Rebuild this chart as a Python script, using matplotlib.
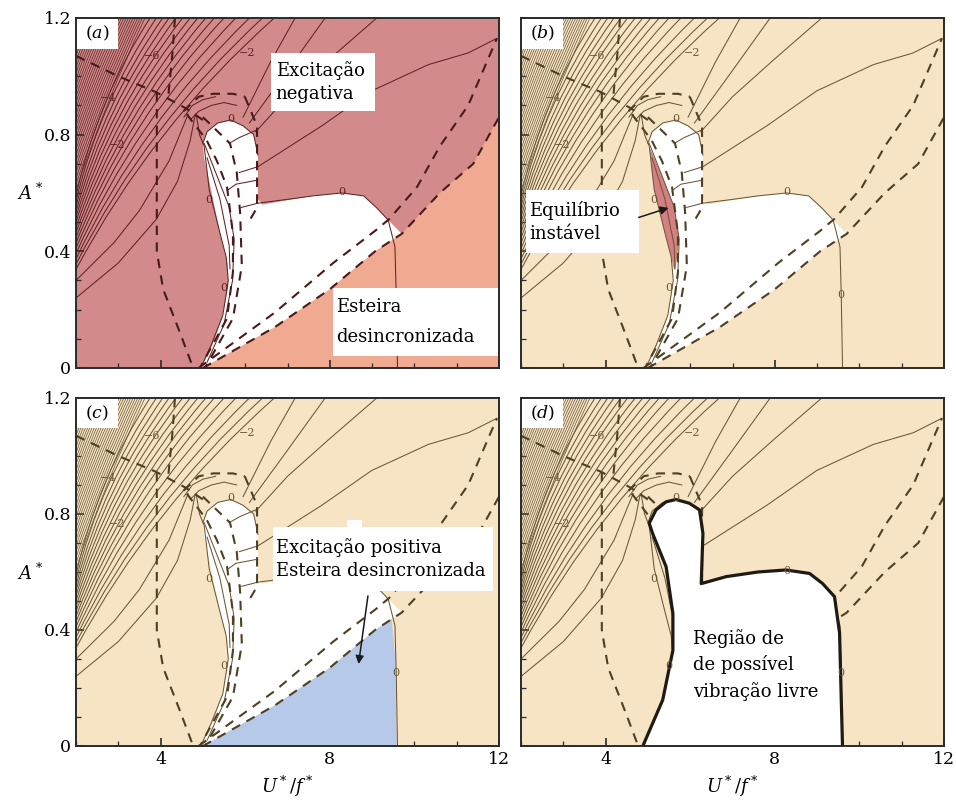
import matplotlib.pyplot as plt
from matplotlib.patches import Rectangle, PathPatch, FancyArrowPatch
from matplotlib.path import Path
from matplotlib.ticker import MultipleLocator, FuncFormatter

plt.rcParams['font.family'] = 'DejaVu Serif'
plt.rcParams['mathtext.fontset'] = 'dejavuserif'

# --- contour lines running from the left edge (x = 2) to the top edge (A* = 1.2) ---
# tightly packed lines in the upper-left corner
corner_y_left = [1.19, 1.17, 1.15, 1.13, 1.11, 1.09, 1.07, 1.05, 1.03, 1.01,
                 0.99, 0.97, 0.95, 0.93, 0.91, 0.89, 0.87, 0.85, 0.83, 0.81,
                 0.79, 0.77, 0.75, 0.73, 0.71, 0.69, 0.67, 0.65, 0.63, 0.61]
corner_x_top = [2.03, 2.085, 2.14, 2.195, 2.25, 2.305, 2.36, 2.415, 2.47, 2.525,
                2.58, 2.635, 2.69, 2.745, 2.80, 2.855, 2.91, 2.965, 3.02, 3.075,
                3.13, 3.185, 3.24, 3.295, 3.35, 3.405, 3.46, 3.515, 3.57, 3.63]
# wider-spaced lines below them, bending over the saddle
fan_y_left = [0.59, 0.572, 0.554, 0.536, 0.518, 0.50, 0.482, 0.464, 0.446, 0.428,
              0.41, 0.392, 0.374, 0.356, 0.338]
fan_x_top = [3.75, 3.9, 4.05, 4.2, 4.36, 4.52, 4.7, 4.88, 5.07, 5.27,
             5.5, 5.78, 6.1, 6.41, 6.69]

# lower contours feeding into the saddle near U*/f* ~ 4.8
low1_x = [2.0, 3.0, 3.9, 4.4, 4.7, 4.82]
low1_y = [0.24, 0.36, 0.51, 0.64, 0.78, 0.87]
low2_x = [2.0, 2.9, 3.5, 4.2, 4.65]
low2_y = [0.30, 0.43, 0.54, 0.71, 0.87]

# contours leaving the top of the "head" towards upper right
head1_x = [5.86, 6.3, 7.81, 8.99, 10.33, 11.27, 11.95]
head1_y = [0.67, 0.69, 0.83, 0.95, 1.04, 1.08, 1.13]
head2_x = [6.25, 7.0, 8.0, 9.11]
head2_y = [0.81, 0.93, 1.06, 1.2]
head3_x = [6.1, 7.0, 7.89]
head3_y = [0.84, 1.02, 1.2]
head4_x = [5.95, 6.6, 7.18]
head4_y = [0.86, 1.05, 1.2]
knot1_x = [4.55, 4.75, 5.0, 5.3]
knot1_y = [0.86, 0.90, 0.92, 0.93]
knot2_x = [4.7, 4.9, 5.2, 5.5, 5.8]
knot2_y = [0.85, 0.88, 0.90, 0.91, 0.90]

# zero contours
zero_left_x = [4.84, 4.92, 5.03, 5.15, 5.39, 5.55, 5.6, 5.47, 5.2, 4.95]
zero_left_y = [0.87, 0.80, 0.76, 0.61, 0.47, 0.38, 0.30, 0.18, 0.08, 0.0]
zero_mid_x = [5.03, 5.31, 5.62, 5.74, 5.7, 5.5, 5.1]
zero_mid_y = [0.77, 0.667, 0.552, 0.44, 0.30, 0.15, 0.02]
zero_sliver_x = [5.1, 5.4, 5.62, 5.64]
zero_sliver_y = [0.72, 0.58, 0.42, 0.34]
zero_head_x = [5.0, 5.1, 5.35, 5.66, 5.95, 6.2, 6.3]
zero_head_y = [0.77, 0.81, 0.84, 0.85, 0.83, 0.80, 0.73]
zero_body_x = [5.9, 6.3, 7.0, 7.6, 8.28, 8.8, 9.1, 9.38, 9.54, 9.57, 9.6]
zero_body_y = [0.55, 0.565, 0.578, 0.59, 0.60, 0.59, 0.55, 0.507, 0.415, 0.25, 0.0]
inner1_x = [5.62, 5.86, 6.26]
inner1_y = [0.77, 0.79, 0.815]
inner2_x = [5.59, 5.78, 6.29]
inner2_y = [0.61, 0.63, 0.644]

# dashed boundaries
dash_diag_x = [2.0, 3.0, 3.9, 4.6, 5.0]
dash_diag_y = [1.07, 1.0, 0.945, 0.89, 0.85]
dash_top_x = [4.34, 4.28, 4.18]
dash_top_y = [1.2, 1.08, 0.93]
dash_lens_x = [3.91, 3.91, 3.91, 4.06, 4.46, 4.77]
dash_lens_y = [0.945, 0.69, 0.40, 0.27, 0.12, 0.0]
dash_s1_x = [4.62, 5.09, 5.33, 5.57, 5.71, 5.71, 5.57, 4.93]
dash_s1_y = [0.87, 0.78, 0.71, 0.62, 0.46, 0.33, 0.17, 0.0]
dash_s2_x = [5.0, 5.64, 5.8, 5.88, 5.92, 5.71, 5.05]
dash_s2_y = [0.86, 0.77, 0.67, 0.53, 0.35, 0.17, 0.0]
dash_head_x = [5.99, 6.28, 6.28, 6.12]
dash_head_y = [0.93, 0.83, 0.55, 0.51]
dash_cap_x = [4.54, 4.9, 5.24, 5.71, 5.99]
dash_cap_y = [0.88, 0.93, 0.94, 0.94, 0.93]
p_x = [4.9, 6.7, 8.08, 9.07, 9.4, 10.06, 10.6, 11.27, 11.95]
p_y = [0.0, 0.19, 0.36, 0.47, 0.51, 0.62, 0.76, 0.90, 1.13]
q_x = [5.0, 6.7, 8.0, 9.07, 9.7, 10.6, 11.39, 12.0]
q_y = [0.0, 0.14, 0.27, 0.40, 0.46, 0.60, 0.70, 0.86]

# regions
white_x = [4.95, 5.2, 5.45, 5.6, 5.58, 5.41, 5.28, 5.15, 5.03, 5.0, 5.1, 5.35,
           5.66, 5.95, 6.2, 6.3, 6.3, 6.4, 7.0, 7.6, 8.28, 8.8, 9.1, 9.38,
           9.7, 9.07, 8.0, 6.7, 5.0]
white_y = [0.0, 0.07, 0.17, 0.28, 0.36, 0.46, 0.55, 0.64, 0.72, 0.77, 0.81, 0.84,
           0.85, 0.83, 0.80, 0.73, 0.58, 0.56, 0.575, 0.59, 0.60, 0.59, 0.55, 0.507,
           0.46, 0.40, 0.27, 0.14, 0.0]
sliver_x = [5.03, 5.15, 5.39, 5.55, 5.62, 5.66, 5.74, 5.62, 5.31, 5.03]
sliver_y = [0.76, 0.61, 0.47, 0.38, 0.336, 0.347, 0.44, 0.552, 0.667, 0.76]
blue_x = [5.0, 6.7, 8.0, 9.07, 9.46, 9.55, 9.58]
blue_y = [0.0, 0.14, 0.27, 0.40, 0.44, 0.30, 0.0]
free_x = [4.88, 5.35, 5.59, 5.59, 5.43, 5.11, 5.03, 5.19, 5.43, 5.66, 5.98, 6.22,
          6.3, 6.26, 6.85, 7.6, 8.26, 8.82, 9.13, 9.41, 9.53, 9.57, 9.6]
free_y = [0.0, 0.159, 0.33, 0.457, 0.618, 0.733, 0.768, 0.814, 0.842, 0.85, 0.837, 0.814,
          0.733, 0.56, 0.584, 0.60, 0.607, 0.595, 0.56, 0.515, 0.39, 0.16, 0.0]

# contour level labels
neg_labels = ['\u22126', '\u22122', '\u22124', '\u22122']
neg_label_x = [3.79, 6.05, 2.77, 2.96]
neg_label_y = [1.07, 1.08, 0.925, 0.765]
zero_label_x = [5.66, 5.13, 8.28, 5.5, 9.55]
zero_label_y = [0.855, 0.575, 0.605, 0.275, 0.25]
# zero labels hidden under the text boxes of a panel
zero_hidden = {'a': [4], 'c': [2]}

RED = '#d38a8b'
ORANGE = '#f0aa91'
BEIGE = '#f6e4c5'
BLUE = '#b7c9e8'

fig = plt.figure(figsize=(9.56, 8.05), dpi=100)
positions = {
    'a': [0.0795, 0.5429, 0.4425, 0.4348],
    'b': [0.545, 0.5429, 0.4425, 0.4348],
    'c': [0.0795, 0.0733, 0.4425, 0.4323],
    'd': [0.545, 0.0733, 0.4425, 0.4323],
}


def bowed_line(ax, y0, x1, bend, color, lw):
    """Quadratic curve from (2, y0) to (x1, 1.2), bowed towards the upper left."""
    x0, y1 = 2.0, 1.2
    sx, sy = 42.3, 292.0  # approx. pixels per data unit
    dx, dy = (x1 - x0) * sx, (y1 - y0) * sy
    cx = (x0 + x1) / 2 - bend * dy / sx
    cy = (y0 + y1) / 2 + bend * dx / sy
    path = Path([(x0, y0), (cx, cy), (x1, y1)],
                [Path.MOVETO, Path.CURVE3, Path.CURVE3])
    ax.add_patch(PathPatch(path, fill=False, edgecolor=color, lw=lw, zorder=2))


def draw_panel(ax, tag):
    if tag == 'a':
        bg, lc, dc = RED, '#5e2424', '#4a1a1a'
    else:
        bg, lc, dc = BEIGE, '#6a5836', '#4e4024'
    ax.set_facecolor(bg)
    ax.set_xlim(2, 12)
    ax.set_ylim(0, 1.2)

    if tag == 'a':
        ax.fill(q_x + [12.0], q_y + [0.0], color=ORANGE, lw=0, zorder=1)

    for y0, x1 in zip(corner_y_left, corner_x_top):
        bowed_line(ax, y0, x1, 0.03, lc, 0.5)
    for y0, x1 in zip(fan_y_left, fan_x_top):
        bowed_line(ax, y0, x1, 0.09, lc, 0.75)

    thin = dict(color=lc, lw=0.75, zorder=2)
    for xs, ys in [(low1_x, low1_y), (low2_x, low2_y), (head2_x, head2_y),
                   (head3_x, head3_y), (head4_x, head4_y),
                   (knot1_x, knot1_y), (knot2_x, knot2_y)]:
        ax.plot(xs, ys, **thin)

    if tag != 'd':
        ax.fill(white_x, white_y, color='white', lw=0, zorder=3)
    if tag == 'b':
        ax.fill(sliver_x, sliver_y, color='#d47f82', lw=0, zorder=3.5)
    if tag == 'c':
        ax.fill(blue_x, blue_y, color=BLUE, lw=0, zorder=3.5)

    thin4 = dict(color=lc, lw=0.75, zorder=4)
    for xs, ys in [(head1_x, head1_y), (zero_left_x, zero_left_y),
                   (zero_mid_x, zero_mid_y), (zero_sliver_x, zero_sliver_y),
                   (zero_head_x, zero_head_y), (zero_body_x, zero_body_y),
                   (inner1_x, inner1_y), (inner2_x, inner2_y)]:
        ax.plot(xs, ys, **thin4)

    dashed = dict(color=dc, lw=1.5, dashes=(4.5, 3.5), zorder=5)
    for xs, ys in [(dash_diag_x, dash_diag_y), (dash_top_x, dash_top_y),
                   (dash_lens_x, dash_lens_y), (dash_s1_x, dash_s1_y),
                   (dash_s2_x, dash_s2_y), (dash_head_x, dash_head_y),
                   (dash_cap_x, dash_cap_y), (p_x, p_y), (q_x, q_y)]:
        ax.plot(xs, ys, **dashed)

    if tag == 'd':
        ax.fill(free_x, free_y, color='white', lw=0, zorder=6)
        ax.plot(free_x, free_y, color='#1e1a14', lw=2.3, zorder=7,
                solid_joinstyle='round')

    for s, x, y in zip(neg_labels, neg_label_x, neg_label_y):
        ax.text(x, y, s, fontsize=8, color=lc, ha='center', va='center', zorder=7.5)
    for i, (x, y) in enumerate(zip(zero_label_x, zero_label_y)):
        if i in zero_hidden.get(tag, []):
            continue
        ax.text(x, y, '0', fontsize=8, color=lc, ha='center', va='center', zorder=7.5)

    # panel letter
    ax.add_patch(Rectangle((2.0, 1.095), 1.0, 0.105, facecolor='white',
                           edgecolor='none', zorder=9))
    ax.text(2.5, 1.147, '($' + tag + '$)', fontsize=12.5, ha='center',
            va='center', zorder=10)

    box = dict(facecolor='white', edgecolor='none', zorder=9)
    txt = dict(fontsize=13, ha='left', va='center', linespacing=1.4, zorder=10)

    def arrow(tail, head):
        ax.add_patch(FancyArrowPatch(tail, head, arrowstyle='-|>', color='#1a1a1a',
                                     lw=1.1, mutation_scale=12, zorder=10))

    if tag == 'a':
        ax.add_patch(Rectangle((6.62, 0.88), 2.45, 0.2, **box))
        ax.text(6.72, 0.98, 'Excitação\nnegativa', **txt)
        ax.add_patch(Rectangle((8.08, 0.04), 3.9, 0.235, **box))
        ax.text(8.15, 0.157, 'Esteira\ndesincronizada', fontsize=13, ha='left',
                va='center', linespacing=1.9, zorder=10)
    elif tag == 'b':
        ax.add_patch(Rectangle((2.12, 0.393), 2.67, 0.217, **box))
        ax.text(2.2, 0.5, 'Equilíbrio\ninstável', **txt)
        arrow((4.72, 0.513), (5.55, 0.552))
    elif tag == 'c':
        ax.add_patch(Rectangle((6.65, 0.535), 5.2, 0.22, **box))
        ax.add_patch(Rectangle((8.41, 0.74), 0.35, 0.04, **box))
        ax.text(6.72, 0.645, 'Excitação positiva\nEsteira desincronizada', **txt)
        arrow((8.91, 0.527), (8.67, 0.273))
    else:
        ax.text(6.06, 0.28, 'Região de\nde possível\nvibração livre',
                fontsize=13, ha='left', va='center', linespacing=1.5, zorder=10)

    # axes styling
    for sp in ax.spines.values():
        sp.set_color('#2a2a2a')
        sp.set_linewidth(1.4)
        sp.set_zorder(11)
    ax.xaxis.set_major_locator(MultipleLocator(4))
    ax.xaxis.set_minor_locator(MultipleLocator(1))
    ax.yaxis.set_major_locator(MultipleLocator(0.4))
    ax.yaxis.set_minor_locator(MultipleLocator(0.1))
    ax.tick_params(which='both', direction='in', top=False, right=False,
                   color='#2a2a2a', labelsize=12.5)
    ax.tick_params(which='major', length=6, width=1.2)
    ax.tick_params(which='minor', length=3.5, width=0.9)
    ax.xaxis.set_major_formatter(FuncFormatter(lambda v, p: '%d' % v))
    ax.yaxis.set_major_formatter(FuncFormatter(lambda v, p: '0' if v == 0 else '%.1f' % v))
    if tag in ('a', 'b'):
        ax.tick_params(labelbottom=False)
    if tag in ('b', 'd'):
        ax.tick_params(labelleft=False)


for tag in 'abcd':
    ax = fig.add_axes(positions[tag])
    draw_panel(ax, tag)

fig.text(30 / 956, 1 - 193 / 805, '$A^*$', fontsize=13, ha='center', va='center')
fig.text(30 / 956, 1 - 573 / 805, '$A^*$', fontsize=13, ha='center', va='center')
fig.text(287 / 956, 1 - 786 / 805, '$U^*/f^*$', fontsize=13, ha='center', va='center')
fig.text(732 / 956, 1 - 786 / 805, '$U^*/f^*$', fontsize=13, ha='center', va='center')

fig.savefig('out.png', dpi=100)
